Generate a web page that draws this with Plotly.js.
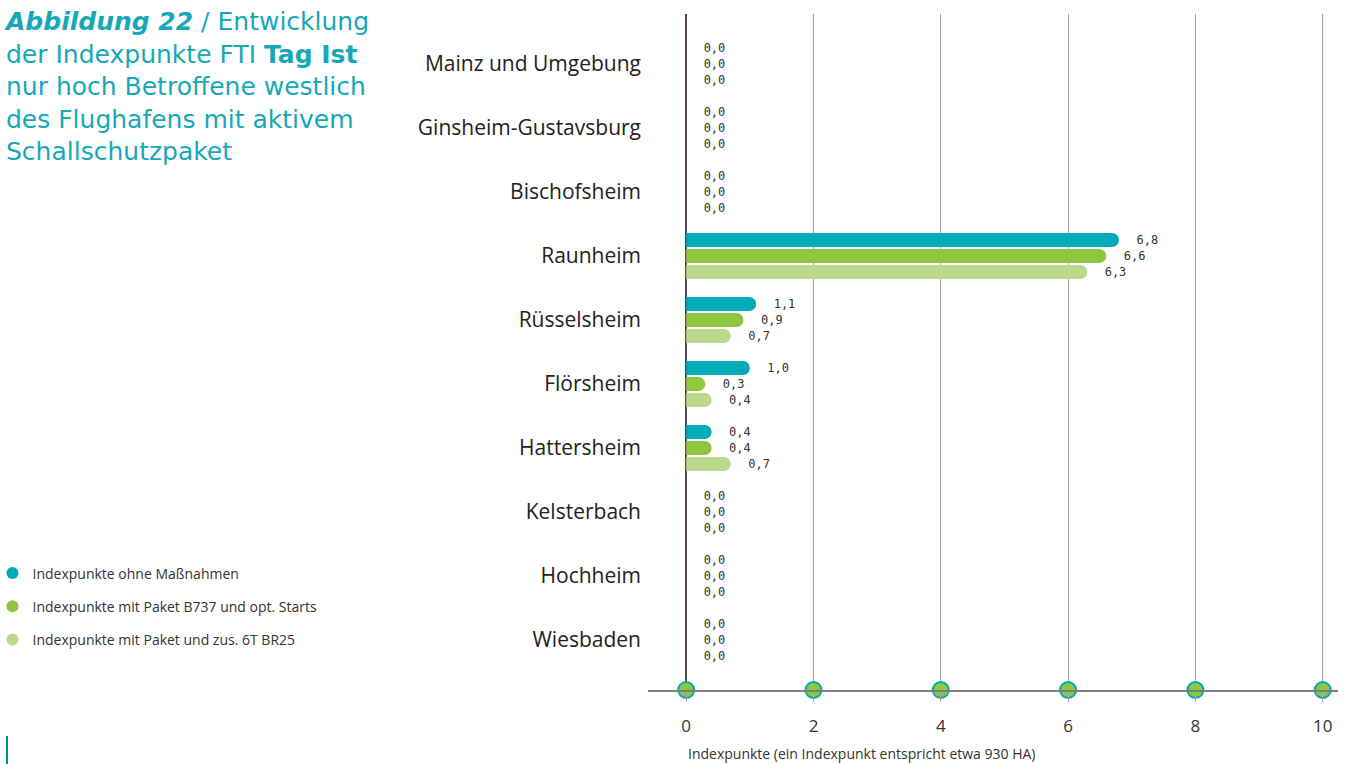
<!DOCTYPE html>
<html>
<head>
<meta charset="utf-8">
<script src="https://cdn.plot.ly/plotly-3.0.1.min.js"></script>
<style>html,body{margin:0;padding:0;background:#fff;}#chart{width:1346px;height:764px;}</style>
</head>
<body>
<div id="chart"></div>
<script>
const categories = ["Mainz und Umgebung","Ginsheim-Gustavsburg","Bischofsheim","Raunheim","Rüsselsheim","Flörsheim","Hattersheim","Kelsterbach","Hochheim","Wiesbaden"];
const seriesNames = ["Indexpunkte ohne Maßnahmen","Indexpunkte mit Paket B737 und opt. Starts","Indexpunkte mit Paket und zus. 6T BR25"];
const ohneMassnahmen = [0,0,0,6.8,1.1,1.0,0.4,0,0,0];
const paketB737 = [0,0,0,6.6,0.9,0.3,0.4,0,0,0];
const paketZus6T = [0,0,0,6.3,0.7,0.4,0.7,0,0,0];
const tickValues = [0,2,4,6,8,10];
const tickLabels = ["0","2","4","6","8","10"];
const xTitle = "Indexpunkte (ein Indexpunkt entspricht etwa 930 HA)";

const colors = ["#00a9b9","#8dc63f","#b9da8b"];
const fmt = v => "\u00a0\u00a0" + v.toFixed(1).replace(".", ",");
const allSeries = [ohneMassnahmen, paketB737, paketZus6T];

const traces = [];
allSeries.forEach((vals, i) => {
  traces.push({
    type: "bar", orientation: "h",
    x: vals, y: categories,
    marker: {color: colors[i]},
    text: vals.map(fmt),
    textposition: "outside",
    cliponaxis: false,
    constraintext: "none",
    textfont: {family: "DejaVu Sans Mono", size: 12, color: "#333"},
    showlegend: false, hoverinfo: "x"
  });
});
seriesNames.forEach((n, i) => {
  traces.push({
    type: "scatter", mode: "markers", x: [null], y: [null], name: n,
    marker: {color: colors[i], size: 12, symbol: "circle"},
    legendgroup: "g" + i, showlegend: true
  });
});
traces.push({
  type: "scatter", mode: "markers", x: tickValues, y: tickValues.map(() => 0),
  yaxis: "y2", cliponaxis: false, showlegend: false, hoverinfo: "skip",
  marker: {color: "#8dc63f", size: 16, line: {color: "#00a9b9", width: 2}}
});

const layout = {
  width: 1346, height: 764,
  margin: {l: 648, r: 8, t: 14, b: 74, autoexpand: false},
  paper_bgcolor: "#fff", plot_bgcolor: "#fff",
  font: {family: "Open Sans", color: "#333"},
  barmode: "group", bargap: 0.25, bargroupgap: 0.125,
  barcornerradius: 7,
  xaxis: {
    range: [-0.6, 10.24], tickvals: tickValues, ticktext: tickLabels,
    showgrid: true, gridcolor: "#a3a3a3", gridwidth: 1,
    zeroline: true, zerolinecolor: "#5a4848", zerolinewidth: 1.5,
    showline: true, linecolor: "#7d7d7d", linewidth: 1.5,
    ticks: "outside", ticklen: 10, tickcolor: "#a3a3a3", tickwidth: 1,
    ticklabelstandoff: 10,
    tickfont: {family: "Open Sans", size: 17, color: "#333"},
    automargin: false, fixedrange: true
  },
  yaxis: {
    type: "category", range: [9.78, -0.78],
    showgrid: false, zeroline: false, showline: false, ticks: "",
    tickfont: {family: "Open Sans", size: 21, color: "#222"},
    ticklabelstandoff: 6,
    automargin: false, fixedrange: true
  },
  yaxis2: {overlaying: "y", range: [0, 1], visible: false, fixedrange: true},
  legend: {
    x: -0.950, y: 0.196, xanchor: "left", yanchor: "top",
    traceorder: "grouped", tracegroupgap: 12,
    font: {family: "Open Sans", size: 14, color: "#333"},
    bgcolor: "rgba(0,0,0,0)"
  },
  annotations: [
    {
      xref: "paper", yref: "paper", x: -0.936, y: 1.014, xanchor: "left", yanchor: "top",
      align: "left", showarrow: false,
      font: {family: "DejaVu Sans", size: 25, color: "#17a8b7"},
      text: "<b><i>Abbildung 22</i></b> / Entwicklung<br>der Indexpunkte FTI <b>Tag Ist</b><br>nur hoch Betroffene westlich<br>des Flughafens mit aktivem<br>Schallschutzpaket"
    },
    {
      xref: "x", yref: "paper", x: 0, y: -0.077, xanchor: "left", yanchor: "top",
      showarrow: false, font: {family: "Open Sans", size: 14, color: "#333"},
      text: xTitle
    }
  ],
  shapes: [
    {type: "line", xref: "paper", yref: "paper", x0: -0.929, x1: -0.929, y0: -0.068, y1: -0.110,
     line: {color: "#0e8a8a", width: 2}}
  ]
};

Plotly.newPlot("chart", traces, layout, {displayModeBar: false, staticPlot: true});
</script>
</body>
</html>
